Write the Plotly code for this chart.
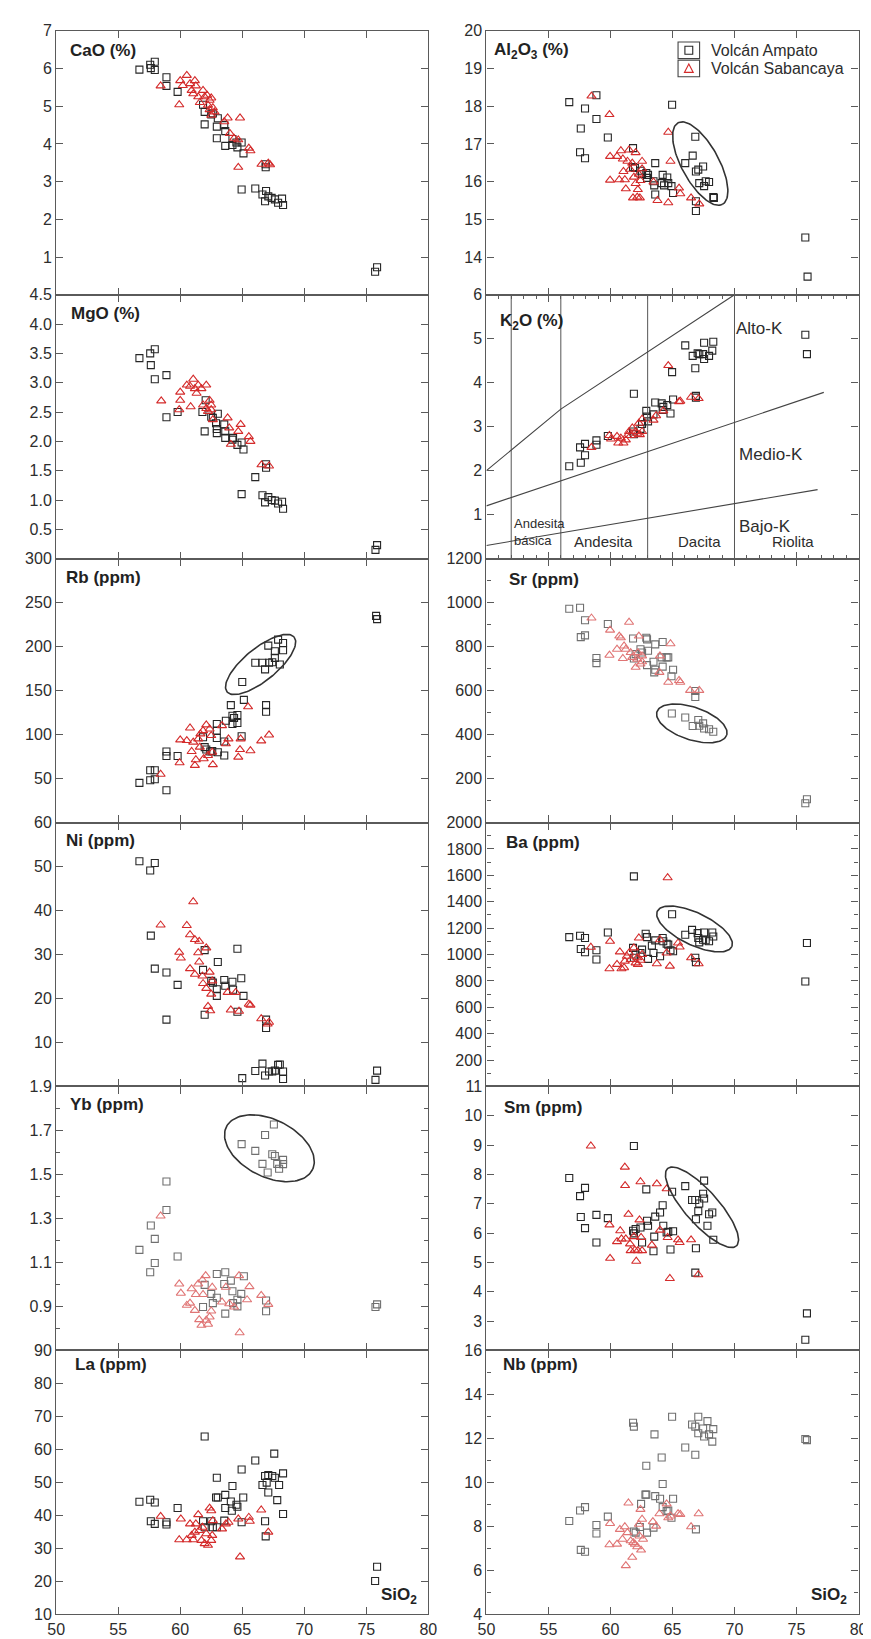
import numpy as np
import plotly.graph_objects as go

# ---------------- DATA (SiO2 wt% vs element) ----------------
cao_amp_si = [56.71,57.58,57.63,57.95,57.95,58.89,58.89,59.79,61.84,61.97,61.97,62.5,62.63,62.95,63.03,62.95,63.55,63.63,63.63,64.21,64.21,64.53,64.61,64.95,65.1,64.95,66.05,66.63,66.84,66.92,67.1,67.37,67.63,67.89,68.21,68.29,66.89,66.89,75.71,75.87]
cao_amp = [5.97,6.10,6.01,6.18,5.96,5.77,5.54,5.38,5.04,4.85,4.52,4.78,4.81,4.46,4.68,4.15,4.50,4.34,3.95,4.13,3.97,4.04,3.91,4.04,3.75,2.79,2.82,2.66,2.48,2.75,2.61,2.57,2.53,2.44,2.55,2.38,3.46,3.38,0.61,0.73]
cao_sab_si = [58.42,59.92,60.0,60.21,60.53,60.79,60.92,61.18,61.26,61.05,61.45,61.58,61.84,61.97,62.18,62.37,62.5,62.24,62.37,62.63,62.76,62.5,63.55,63.82,64.82,64.0,64.34,64.68,64.68,65.53,65.66,66.55,67.1,67.24]
cao_sab = [5.54,5.04,5.68,5.55,5.82,5.60,5.42,5.68,5.54,5.33,5.25,5.10,5.42,5.25,5.29,5.16,5.22,5.03,4.91,4.96,4.85,4.76,4.59,4.69,4.69,4.28,4.15,4.11,3.38,3.89,3.82,3.46,3.49,3.45]

mgo_amp_si = [56.71,57.58,57.63,57.95,57.95,58.89,58.89,59.79,61.79,61.97,62.05,62.5,62.63,62.89,62.95,63.03,62.95,63.55,63.63,63.63,64.21,64.26,64.61,64.95,65.1,64.95,66.05,66.63,66.84,66.92,66.92,67.1,67.37,67.63,67.89,68.21,68.29,75.74,75.87]
mgo_amp = [3.42,3.50,3.30,3.57,3.06,3.13,2.41,2.50,2.50,2.17,2.70,2.42,2.40,2.31,2.21,2.47,2.14,2.29,2.17,2.06,2.03,2.06,1.94,1.98,1.86,1.10,1.39,1.08,0.96,1.61,1.55,1.05,1.00,0.99,0.94,0.97,0.85,0.15,0.23]
mgo_sab_si = [58.47,59.92,60.0,60.0,60.53,60.79,60.84,61.05,61.18,61.32,61.45,61.71,62.1,61.84,62.1,62.37,62.5,62.24,62.5,62.63,63.82,63.95,64.08,64.68,64.87,65.53,65.66,66.55,67.16]
mgo_sab = [2.69,2.54,2.84,2.70,2.96,2.94,2.59,3.06,2.90,2.82,2.96,2.90,2.96,2.62,2.56,2.70,2.62,2.51,2.54,2.37,2.40,2.23,1.95,2.17,2.29,2.08,2.00,1.60,1.58]

rb_amp_si = [56.71,57.58,57.58,57.95,57.95,58.89,58.89,58.89,59.79,61.84,61.97,62.1,62.42,62.58,62.95,62.95,62.95,63.03,63.55,63.55,63.68,64.08,64.21,64.21,64.34,64.61,64.61,64.95,65.0,65.13,66.05,66.63,66.84,66.92,66.92,67.1,67.16,67.42,67.63,67.63,67.89,68.03,68.29,68.29,75.79,75.87]
rb_amp = [45.1,48.1,59.4,59.4,49.2,80.8,75.6,36.8,75.6,97,85.7,83,80.8,81.2,112,104.5,96.2,80,76.3,92.1,115.8,133.5,121.4,112,118.8,122.2,113.2,98.1,159.8,139.5,181.6,181.6,174.1,133.5,126,201.1,181.6,182.3,194.7,187.2,207.9,179.7,204.1,195.9,235,231.2]
rb_sab_si = [58.42,59.95,60.0,60.53,60.79,60.92,61.05,61.18,61.26,61.45,61.58,61.63,61.84,61.89,62.1,62.24,62.37,62.5,62.63,62.58,63.37,63.68,63.89,64.68,64.82,64.87,65.47,65.66,66.53,67.16]
rb_sab = [54.9,68,94,93.2,107.5,80.8,91.4,65,71.4,95.1,85.7,100.8,104.5,72.6,111,76.3,106.4,98.9,65.8,80,110.2,89.5,95.1,74.4,83,95.1,131.6,81.6,92.9,99.6]

ni_amp_si = [56.71,57.58,57.95,57.63,57.95,58.89,58.89,59.79,61.84,61.97,61.97,62.5,62.63,62.95,62.95,63.03,63.55,63.63,64.21,64.26,64.61,64.61,64.92,65.1,65.0,66.05,66.63,66.84,66.92,66.92,67.16,67.42,67.63,67.89,68.03,68.29,68.29,75.74,75.87]
ni_amp = [51.2,49.1,50.8,34.3,26.8,25.9,15.2,23.1,26.5,31.0,16.3,24.0,23.6,22.1,20.6,28.3,24.2,22.9,23.8,22.0,31.3,17.0,24.6,20.6,1.9,3.5,5.2,2.5,15.2,13.3,3.4,3.4,3.6,4.9,5.0,3.4,1.7,1.5,3.6]
ni_sab_si = [58.42,59.92,60.05,60.53,60.79,60.79,61.05,61.18,61.18,61.45,61.53,61.53,61.79,61.84,62.1,62.1,62.24,62.37,62.42,62.5,62.58,63.82,64.08,64.47,64.74,65.53,65.66,66.53,67.05,67.16]
ni_sab = [36.7,30.5,29.2,36.6,26.8,34.5,42.0,33.4,25.5,30.4,33.0,28.3,25.1,23.4,31.5,22.3,18.2,26.0,17.2,21.0,24.0,21.4,17.4,21.4,17.1,18.7,18.5,15.4,14.2,14.6]

yb_amp_si = [56.71,57.58,57.63,57.95,57.95,58.89,58.89,59.79,61.84,61.97,62.5,62.63,62.95,62.95,63.63,63.55,63.63,64.08,64.21,64.26,64.61,64.61,64.92,65.13,64.95,66.05,66.63,66.84,66.92,66.92,67.05,67.42,67.55,67.63,67.82,67.97,68.29,68.29,75.74,75.87]
yb_amp = [1.157,1.055,1.268,1.207,1.097,1.468,1.338,1.127,0.897,0.998,0.957,0.915,0.939,1.047,1.055,1.002,0.867,1.017,0.969,0.915,0.930,0.900,0.957,1.037,1.638,1.607,1.548,1.679,0.927,0.878,1.509,1.592,1.727,1.584,1.548,1.526,1.566,1.547,0.897,0.909]
yb_sab_si = [58.42,59.92,60.05,60.53,60.79,60.92,61.18,61.26,61.45,61.53,61.71,61.79,61.84,62.05,62.1,62.24,62.37,62.5,62.58,63.37,63.68,63.95,64.34,64.74,64.79,65.39,65.58,66.53,67.1]
yb_sab = [1.311,1.002,0.960,0.905,0.915,0.980,0.882,0.954,1.002,0.840,0.814,1.020,0.954,1.040,0.837,0.819,0.852,0.879,0.987,0.920,0.987,0.912,0.897,1.040,0.780,0.930,0.990,0.950,0.909]

la_amp_si = [56.71,57.58,57.63,57.95,57.95,58.89,58.89,59.79,61.97,61.84,61.97,62.5,62.63,62.95,62.89,63.03,62.95,63.55,63.63,63.63,64.21,64.08,64.16,64.53,64.61,64.95,64.95,65.08,66.05,66.63,66.84,66.89,66.84,67.1,67.1,66.97,67.42,67.58,67.63,67.82,67.97,68.29,68.29,75.71,75.87]
la_amp = [44.1,44.7,38.2,43.9,37.4,37.9,37.2,42.2,63.9,38.2,36.4,38.2,36.4,51.4,45.4,45.4,36.4,38.4,46.2,42.2,48.9,44.2,41.4,43.2,42.6,53.9,37.9,45.4,56.6,49.2,38.2,33.6,51.9,52.2,46.9,49.9,51.9,58.7,51.4,44.6,49.2,52.7,40.4,20.1,24.4]
la_sab_si = [58.42,59.92,60.05,60.53,60.79,60.92,61.05,61.18,61.26,61.45,61.53,61.71,61.79,61.97,62.1,62.24,62.37,62.5,62.5,62.58,62.63,63.37,63.68,63.89,64.68,64.82,65.53,65.61,66.53,67.1]
la_sab = [39.7,32.6,38.9,32.6,37.4,33.9,32.6,34.9,37.4,40.2,35.4,32.4,36.4,31.4,34.4,30.9,42.2,41.4,32.4,33.9,38.4,35.9,37.4,37.9,38.9,27.4,39.4,38.2,41.6,34.9]

al_amp_si = [56.68,57.55,57.61,57.95,57.95,58.87,58.87,59.79,61.82,61.82,61.97,62.42,62.55,62.89,62.95,63.03,63.47,63.61,63.53,63.61,64.13,64.21,64.32,64.58,64.66,64.92,65.05,64.97,66.03,66.63,66.84,66.89,66.89,66.89,67.08,67.16,67.47,67.55,67.68,67.95,68.29,68.34,75.71,75.89]
al_amp = [18.11,16.78,17.41,17.94,16.62,18.29,17.66,17.17,16.89,16.39,16.36,16.29,16.20,16.23,16.10,16.18,16.01,16.49,15.90,15.66,15.96,16.18,15.90,16.11,15.96,15.88,15.70,18.04,16.49,16.69,17.19,16.27,15.48,15.22,16.32,15.96,16.40,15.88,16.01,15.99,15.59,15.57,14.52,13.48]
al_sab_si = [58.47,59.92,59.97,59.97,60.53,60.71,60.84,61.0,61.05,61.16,61.24,61.37,61.5,61.58,61.76,61.82,61.89,62.03,62.03,62.16,62.21,62.29,62.37,62.42,62.55,62.55,63.47,63.79,64.66,64.66,64.84,65.53,65.63,66.5,67.16]
al_sab = [18.27,17.78,16.67,16.04,16.67,16.05,16.82,16.60,16.27,16.05,15.81,16.54,16.84,16.33,16.49,15.57,16.12,16.77,15.95,15.59,15.79,16.20,15.57,16.03,16.54,16.34,15.99,15.50,17.31,15.44,16.54,15.83,15.68,15.57,15.41]

k2o_amp_si = [56.68,57.55,57.61,57.95,57.95,58.87,58.87,59.79,61.89,61.82,61.89,62.42,62.55,62.89,62.95,63.03,63.47,63.61,64.13,64.21,64.26,64.58,64.84,65.05,64.97,66.03,66.63,66.84,66.89,66.89,67.03,67.16,67.47,67.55,67.55,67.95,68.21,68.29,75.71,75.84]
k2o_amp = [2.10,2.53,2.18,2.35,2.61,2.69,2.59,2.79,3.75,2.89,2.83,2.95,3.06,3.36,3.23,3.12,3.28,3.55,3.53,3.38,3.45,3.49,3.30,3.62,4.24,4.85,4.61,4.33,3.70,3.66,4.67,4.65,4.65,4.91,4.54,4.61,4.73,4.93,5.09,4.65]
k2o_sab_si = [58.47,59.92,60.05,60.53,60.63,60.84,61.05,61.24,61.37,61.5,61.63,61.76,62.03,62.16,62.29,62.37,62.55,62.55,63.47,63.68,64.26,64.66,65.53,65.63,66.5,67.11]
k2o_sab = [2.53,2.80,2.72,2.78,2.63,2.74,2.63,2.70,2.80,2.89,2.80,2.97,2.89,2.85,3.08,2.82,3.17,2.89,3.15,3.25,3.36,4.39,3.57,3.58,3.67,3.64]

sr_amp_si = [56.68,57.55,57.61,57.95,57.95,58.87,58.87,59.79,61.82,61.89,62.03,62.42,62.55,62.89,62.95,63.03,62.95,63.61,63.47,63.53,63.61,64.21,64.13,64.21,64.53,64.66,64.92,65.05,64.95,66.03,66.63,66.84,66.84,67.08,67.16,67.47,67.55,67.95,68.29,75.71,75.84]
sr_amp = [972,977,843,920,851,748,725,903,837,746,766,788,773,840,833,781,716,810,731,683,695,821,751,709,751,751,665,695,496,478,439,571,598,466,440,451,428,424,413,88,106]
sr_sab_si = [58.47,59.92,59.97,60.53,60.71,60.84,61.0,61.1,61.24,61.5,61.63,61.76,62.03,62.16,62.21,62.29,62.42,62.55,62.55,63.99,63.95,64.66,64.84,65.53,65.63,66.42,67.16]
sr_sab = [930,761,875,788,848,840,746,803,788,911,773,751,706,743,773,848,721,731,758,758,683,638,813,646,638,601,601]

ba_amp_si = [56.68,57.55,57.61,57.95,57.95,58.87,58.87,59.79,61.89,61.82,61.89,62.03,62.42,62.55,62.84,62.95,63.03,63.34,63.47,63.61,64.0,64.21,64.26,64.53,64.66,64.84,65.05,64.97,66.03,66.58,66.84,66.89,67.03,67.08,67.16,67.47,67.55,67.68,67.95,68.21,68.29,75.84,75.71]
ba_amp = [1132,1142,1042,1125,1017,1032,962,1167,1592,1050,975,1000,1012,1037,1157,1132,967,1067,1012,1107,987,1125,1100,1082,1075,1032,1025,1305,1150,1187,975,942,1162,1125,1092,1112,1167,1107,1100,1167,1137,1087,795]
ba_sab_si = [58.42,59.92,59.97,60.53,60.76,60.89,61.1,61.16,61.32,61.5,61.63,61.89,62.03,62.16,62.21,62.29,62.42,62.55,63.74,64.0,64.53,64.61,64.79,65.45,65.58,66.5,67.11]
ba_sab = [1055,892,1100,925,1020,892,900,950,987,1012,962,1050,937,975,925,1125,957,1000,930,1112,1012,1582,912,1087,1057,975,930]

sm_amp_si = [56.68,57.55,57.61,57.95,57.95,58.87,58.87,59.79,61.89,61.82,61.89,62.03,62.42,62.55,62.89,62.95,63.03,63.47,63.53,63.61,64.0,64.21,64.26,64.53,64.66,64.84,64.97,65.05,66.03,66.58,66.84,66.89,66.89,66.84,67.08,67.16,67.47,67.55,67.55,67.82,67.95,68.21,68.29,75.84,75.71]
sm_amp = [7.88,7.26,6.55,7.54,6.17,6.62,5.68,6.51,8.97,6.08,5.99,6.14,6.19,5.68,7.49,6.42,6.25,5.38,5.88,6.56,6.70,6.95,6.25,6.02,6.04,5.44,7.41,6.06,7.60,7.13,7.13,6.47,5.48,4.65,6.75,7.01,7.34,7.79,7.18,6.25,6.64,6.70,5.77,3.26,2.36]
sm_sab_si = [58.42,59.92,59.97,60.53,60.79,60.89,61.16,61.18,61.24,61.45,61.58,61.63,61.89,61.97,62.08,62.21,62.34,62.42,62.47,62.55,63.34,63.74,64.0,64.53,64.61,64.79,65.45,65.58,66.5,67.08]
sm_sab = [8.97,6.28,5.14,5.71,6.08,5.80,8.25,7.62,5.80,6.64,5.63,5.40,5.88,5.42,5.04,5.40,6.45,7.75,5.85,5.40,5.59,7.68,6.10,7.51,5.85,4.45,5.77,5.68,5.77,4.58]

nb_amp_si = [56.68,57.55,57.61,57.95,57.95,58.87,58.87,59.79,61.82,61.89,61.89,62.03,62.37,62.47,62.82,62.89,62.89,62.95,63.47,63.55,63.61,64.0,64.13,64.21,64.21,64.53,64.66,64.92,64.97,65.05,66.03,66.58,66.84,66.84,66.89,67.08,67.08,67.47,67.55,67.82,67.95,68.21,68.29,75.71,75.84]
nb_amp = [8.24,8.72,6.93,8.87,6.84,8.06,7.67,8.44,12.71,12.53,7.76,7.71,7.97,9.02,9.44,9.44,10.75,7.71,7.94,12.18,9.37,9.25,11.13,9.92,8.87,8.69,8.72,8.39,12.98,9.25,11.58,12.63,12.53,11.25,7.86,12.98,12.23,12.45,12.08,12.78,12.18,11.85,12.42,11.97,11.92]
nb_sab_si = [59.92,59.97,60.53,60.76,60.97,61.16,61.24,61.37,61.45,61.63,61.76,61.84,61.97,62.16,62.29,62.34,62.42,62.47,62.55,62.63,63.42,63.68,63.95,64.53,64.66,64.84,65.45,65.63,66.5,67.11]
nb_sab = [7.16,8.13,7.19,7.86,7.41,7.98,6.21,7.71,9.06,7.34,6.59,7.26,7.19,7.07,8.09,7.56,8.77,6.92,8.32,7.41,8.21,8.01,8.57,9.02,8.39,8.47,8.57,8.54,7.98,8.57]

# K2O classification diagram lines
k2o_div_si = [52, 56, 63, 70]
k2o_hik_si = [50, 56, 70]
k2o_hik = [2.0, 3.4, 6.0]
k2o_medk_si = [50, 77.2]
k2o_medk = [1.2, 3.78]
k2o_lowk_si = [50, 76.7]
k2o_lowk = [0.3, 1.57]

series_names = ["Volcán Ampato", "Volcán Sabancaya"]
x_ticks = [50, 55, 60, 65, 70, 75, 80]

# ---------------- STYLE / LAYOUT ----------------
FONT = "Liberation Sans, Arial, Helvetica, sans-serif"
W, H = 871, 1639
COLX = [(40.0, 420.0), (479.3, 859.3)]
TOP, PH = 15.0, 266.67
AXC = "#5a5a5a"
TXT = "#2d2d2d"
AMP_C, SAB_C = "#262626", "#d42b2b"
AMP_FADE, SAB_FADE = "#707070", "#e07575"

def rng(a, b, s):
    return [float(v) for v in np.round(np.arange(a, b + s / 2, s), 4)]

panels = [
    dict(r=0, c=0, title="CaO (%)", d=(cao_amp_si, cao_amp, cao_sab_si, cao_sab), yr=[0, 7],
         lab=rng(1, 7, 1), fmt="{:g}", minor=None, t=(12, 20), fade=False),
    dict(r=1, c=0, title="MgO (%)", d=(mgo_amp_si, mgo_amp, mgo_sab_si, mgo_sab), yr=[0, 4.5],
         lab=rng(0.5, 4.5, 0.5), fmt="{:.1f}", minor=None, t=(12.7, 19), fade=False),
    dict(r=2, c=0, title="Rb (ppm)", d=(rb_amp_si, rb_amp, rb_sab_si, rb_sab), yr=[0, 300],
         lab=rng(50, 300, 50), fmt="{:g}", minor=None, t=(8.3, 19.4), fade=False),
    dict(r=3, c=0, title="Ni (ppm)", d=(ni_amp_si, ni_amp, ni_sab_si, ni_sab), yr=[0, 60],
         lab=rng(10, 60, 10), fmt="{:g}", minor=None, t=(7.7, 18.3), fade=False),
    dict(r=4, c=0, title="Yb (ppm)", d=(yb_amp_si, yb_amp, yb_sab_si, yb_sab), yr=[0.7, 1.9],
         lab=rng(0.9, 1.9, 0.2), fmt="{:.1f}", minor=rng(0.8, 1.8, 0.2), t=(11.7, 18.3), fade=True),
    dict(r=5, c=0, title="La (ppm)", d=(la_amp_si, la_amp, la_sab_si, la_sab), yr=[10, 90],
         lab=rng(10, 90, 10), fmt="{:g}", minor=None, t=(16.7, 14.7), fade=False),
    dict(r=0, c=1, title="Al<sub>2</sub>O<sub>3</sub> (%)", d=(al_amp_si, al_amp, al_sab_si, al_sab), yr=[13, 20],
         lab=rng(14, 20, 1), fmt="{:g}", minor=None, t=(5.7, 20), fade=False),
    dict(r=1, c=1, title="K<sub>2</sub>O (%)", d=(k2o_amp_si, k2o_amp, k2o_sab_si, k2o_sab), yr=[0, 6],
         lab=rng(1, 6, 1), fmt="{:g}", minor=None, t=(11.7, 27.6), fade=False),
    dict(r=2, c=1, title="Sr (ppm)", d=(sr_amp_si, sr_amp, sr_sab_si, sr_sab), yr=[0, 1200],
         lab=rng(200, 1200, 200), fmt="{:g}", minor=rng(100, 1100, 200), t=(20.7, 21), fade=True),
    dict(r=3, c=1, title="Ba (ppm)", d=(ba_amp_si, ba_amp, ba_sab_si, ba_sab), yr=[0, 2000],
         lab=rng(200, 2000, 200), fmt="{:g}", minor=rng(100, 1900, 200), t=(18.4, 20), fade=False),
    dict(r=4, c=1, title="Sm (ppm)", d=(sm_amp_si, sm_amp, sm_sab_si, sm_sab), yr=[2, 11],
         lab=rng(3, 11, 1), fmt="{:g}", minor=None, t=(16.4, 21), fade=False),
    dict(r=5, c=1, title="Nb (ppm)", d=(nb_amp_si, nb_amp, nb_sab_si, nb_sab), yr=[4, 16],
         lab=rng(4, 16, 2), fmt="{:g}", minor=rng(5, 15, 2), t=(15, 14), fade=True),
]

# ellipses: (panel index, centre SiO2, centre value, semi-axis a px, semi-axis b px, angle deg on screen)
ellipses = [
    (6, 67.24, 16.48, 47, 19, 61),
    (2, 66.48, 179.7, 44, 16.5, -38.8),
    (8, 66.56, 450.8, 37.5, 16.5, 18.3),
    (9, 66.78, 1193.6, 42, 16.3, 25.2),
    (4, 67.19, 1.619, 49, 29, 26),
    (10, 67.38, 6.88, 52.5, 17, 48),
]

fig = go.Figure()
layout = dict(width=W, height=H, margin=dict(l=0, r=0, t=0, b=0),
              paper_bgcolor="white", plot_bgcolor="white",
              font=dict(family=FONT, size=16, color=TXT),
              showlegend=False)
annotations = []
shapes = []

for i, p in enumerate(panels):
    n = i + 1
    xa = "x" if n == 1 else f"x{n}"
    ya = "y" if n == 1 else f"y{n}"
    x0, x1 = COLX[p["c"]]
    top = TOP + p["r"] * PH
    bot = top + PH
    xd = [x0 / W, x1 / W]
    yd = [1 - bot / H, 1 - top / H]
    is_bottom = p["r"] == 5
    xkey = "xaxis" if n == 1 else f"xaxis{n}"
    ykey = "yaxis" if n == 1 else f"yaxis{n}"
    xaxis = dict(domain=xd, anchor=ya, range=[50, 80], tickmode="array", tickvals=x_ticks,
                 showticklabels=is_bottom, ticks="inside", ticklen=7, tickcolor=AXC,
                 showline=True, linecolor=AXC, linewidth=1.3, mirror="ticks",
                 showgrid=False, zeroline=False, tickfont=dict(size=16, color=TXT))
    if p["r"] == 1 and p["c"] == 1:
        xaxis["minor"] = dict(dtick=1, tick0=50, ticks="inside", ticklen=4, tickcolor=AXC, showgrid=False)
    yaxis = dict(domain=yd, anchor=xa, range=p["yr"], tickmode="array", tickvals=p["lab"],
                 ticktext=[p["fmt"].format(v) for v in p["lab"]],
                 ticks="inside", ticklen=7, tickcolor=AXC, showline=True, linecolor=AXC,
                 linewidth=1.3, mirror="ticks", showgrid=False, zeroline=False,
                 tickfont=dict(size=16, color=TXT))
    if p["minor"] is not None:
        yaxis["minor"] = dict(tickvals=p["minor"], ticks="inside", ticklen=4, tickcolor=AXC, showgrid=False)
    layout[xkey] = xaxis
    layout[ykey] = yaxis

    ax, ay, sx, sy = p["d"]
    ca = AMP_FADE if p["fade"] else AMP_C
    cs = SAB_FADE if p["fade"] else SAB_C
    fig.add_trace(go.Scatter(x=ax, y=ay, xaxis=xa, yaxis=ya, mode="markers", name=series_names[0],
                             marker=dict(symbol="square-open", size=7, color=ca, line=dict(width=1.1))))
    fig.add_trace(go.Scatter(x=sx, y=sy, xaxis=xa, yaxis=ya, mode="markers", name=series_names[1],
                             marker=dict(symbol="triangle-up-open", size=8, color=cs, line=dict(width=1.1))))
    dx, dy = p["t"]
    annotations.append(dict(text=f"<b>{p['title']}</b>", xref=f"{xa} domain", yref=f"{ya} domain",
                            x=dx / 380, y=1 - dy / PH, xanchor="left", yanchor="middle",
                            showarrow=False, font=dict(size=17, color="#222")))
    if is_bottom:
        annotations.append(dict(text="<b>SiO<sub>2</sub></b>", xref=f"{xa} domain", yref=f"{ya} domain",
                                x=0.975, y=0.07, xanchor="right", yanchor="middle",
                                showarrow=False, font=dict(size=17, color="#222")))

# ellipses
for (pi, cx, cy, a, b, ang) in ellipses:
    p = panels[pi]
    n = pi + 1
    xa = "x" if n == 1 else f"x{n}"
    ya = "y" if n == 1 else f"y{n}"
    ppx = 380 / 30.0
    ppy = PH / (p["yr"][1] - p["yr"][0])
    t = np.linspace(0, 2 * np.pi, 121)
    th = np.deg2rad(ang)
    ddx = a * np.cos(t) * np.cos(th) - b * np.sin(t) * np.sin(th)
    ddy = a * np.cos(t) * np.sin(th) + b * np.sin(t) * np.cos(th)
    fig.add_trace(go.Scatter(x=cx + ddx / ppx, y=cy - ddy / ppy, xaxis=xa, yaxis=ya, mode="lines",
                             line=dict(color="#333", width=1.6), showlegend=False, hoverinfo="skip"))

# K2O classification lines (panel 8)
kx, ky = "x8", "y8"
for xv in k2o_div_si:
    fig.add_trace(go.Scatter(x=[xv, xv], y=[0, 6], xaxis=kx, yaxis=ky, mode="lines",
                             line=dict(color="#555", width=1), showlegend=False, hoverinfo="skip"))
for lx, ly in [(k2o_hik_si, k2o_hik), (k2o_medk_si, k2o_medk), (k2o_lowk_si, k2o_lowk)]:
    fig.add_trace(go.Scatter(x=lx, y=ly, xaxis=kx, yaxis=ky, mode="lines",
                             line=dict(color="#444", width=1.1), showlegend=False, hoverinfo="skip"))

k2o_labels = [("Alto-K", 70.0, 5.23, "left", 17), ("Medio-K", 70.2, 2.37, "left", 17),
              ("Bajo-K", 70.2, 0.72, "left", 17), ("Andesita<br>básica", 52.1, 0.61, "left", 13),
              ("Andesita", 59.4, 0.38, "center", 15), ("Dacita", 67.2, 0.38, "center", 15),
              ("Riolita", 74.7, 0.38, "center", 15)]
for txt, x, y, anc, fs in k2o_labels:
    annotations.append(dict(text=txt, x=x, y=y, xref=kx, yref=ky, xanchor=anc, yanchor="middle",
                            showarrow=False, align="left", font=dict(size=fs, color=TXT)))

# ---- legend (drawn in the style of the original: symbol inside a small box) ----
def px(x):
    return x / W

def py(y):
    return 1 - y / H

leg_rows = [(34.6, series_names[0], "square", AMP_C), (53.0, series_names[1], "triangle", SAB_C)]
for yc, name, sym, col in leg_rows:
    shapes.append(dict(type="rect", xref="paper", yref="paper", x0=px(675), x1=px(697),
                       y0=py(yc + 8.4), y1=py(yc - 8.4), line=dict(color="#444", width=1.1)))
    if sym == "square":
        shapes.append(dict(type="rect", xref="paper", yref="paper", x0=px(682), x1=px(690),
                           y0=py(yc + 4), y1=py(yc - 4), line=dict(color=col, width=1.1)))
    else:
        path = (f"M {px(681.5)},{py(yc + 4)} L {px(686)},{py(yc - 4.5)} "
                f"L {px(690.5)},{py(yc + 4)} Z")
        shapes.append(dict(type="path", xref="paper", yref="paper", path=path,
                           line=dict(color=col, width=1.1)))
    annotations.append(dict(text=name, xref="paper", yref="paper", x=px(707), y=py(yc),
                            xanchor="left", yanchor="middle", showarrow=False,
                            font=dict(size=16, color=TXT)))

layout["annotations"] = annotations
layout["shapes"] = shapes
fig.update_layout(**layout)
fig.write_html("out.html")
